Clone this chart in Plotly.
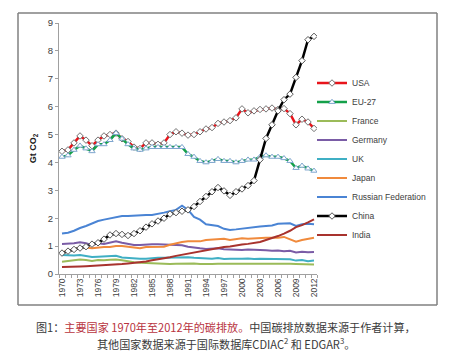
import plotly.graph_objects as go

years = list(range(1970, 2013))

usa = [4.40, 4.45, 4.70, 4.95, 4.80, 4.60, 4.80, 4.95, 5.00, 5.05,
       4.85, 4.75, 4.55, 4.50, 4.70, 4.70, 4.65, 4.70, 5.00, 5.10,
       5.05, 4.98, 5.00, 5.10, 5.20, 5.25, 5.40, 5.45, 5.50, 5.60,
       5.92, 5.78, 5.85, 5.90, 5.92, 5.95, 5.90, 5.93, 5.75, 5.35,
       5.55, 5.45, 5.22]
eu27 = [4.20, 4.25, 4.45, 4.60, 4.50, 4.40, 4.65, 4.65, 4.80, 5.05,
        4.85, 4.65, 4.50, 4.45, 4.50, 4.55, 4.55, 4.55, 4.55, 4.55,
        4.55, 4.30, 4.20, 4.05, 4.00, 4.05, 4.12, 4.05, 4.05, 4.00,
        4.05, 4.10, 4.10, 4.20, 4.25, 4.20, 4.20, 4.15, 4.05, 3.80,
        3.88, 3.78, 3.70]
france = [0.44, 0.47, 0.49, 0.52, 0.50, 0.47, 0.50, 0.49, 0.51, 0.52,
          0.49, 0.45, 0.42, 0.40, 0.39, 0.38, 0.36, 0.36, 0.36, 0.37,
          0.37, 0.39, 0.38, 0.36, 0.35, 0.36, 0.37, 0.37, 0.39, 0.39,
          0.39, 0.39, 0.39, 0.39, 0.39, 0.39, 0.38, 0.38, 0.37, 0.36,
          0.36, 0.34, 0.34]
germany = [1.08, 1.08, 1.10, 1.14, 1.10, 1.03, 1.10, 1.08, 1.12, 1.17,
           1.12, 1.08, 1.04, 1.04, 1.06, 1.07, 1.07, 1.06, 1.06, 1.04,
           1.03, 0.98, 0.94, 0.92, 0.90, 0.90, 0.92, 0.89, 0.88, 0.86,
           0.86, 0.88, 0.86, 0.86, 0.85, 0.83, 0.84, 0.82, 0.83, 0.77,
           0.80, 0.78, 0.79]
uk = [0.68, 0.67, 0.66, 0.68, 0.64, 0.61, 0.62, 0.63, 0.63, 0.65,
      0.59, 0.57, 0.56, 0.55, 0.55, 0.57, 0.58, 0.58, 0.59, 0.59,
      0.60, 0.60, 0.58, 0.57, 0.56, 0.55, 0.57, 0.54, 0.55, 0.54,
      0.55, 0.56, 0.54, 0.55, 0.55, 0.55, 0.55, 0.54, 0.53, 0.48,
      0.50, 0.46, 0.48]
japan = [0.78, 0.82, 0.88, 0.95, 0.95, 0.92, 0.95, 0.97, 0.97, 1.00,
         1.00, 0.97, 0.93, 0.92, 0.97, 0.97, 0.97, 0.98, 1.05, 1.10,
         1.15, 1.17, 1.18, 1.17, 1.22, 1.24, 1.26, 1.26, 1.22, 1.25,
         1.28, 1.26, 1.28, 1.30, 1.30, 1.30, 1.30, 1.33, 1.25, 1.16,
         1.22, 1.25, 1.30]
russia = [1.45, 1.48, 1.55, 1.65, 1.72, 1.82, 1.90, 1.95, 2.00, 2.05,
          2.08, 2.08, 2.10, 2.10, 2.12, 2.12, 2.15, 2.20, 2.25, 2.30,
          2.45, 2.30, 2.05, 1.95, 1.78, 1.75, 1.72, 1.62, 1.58, 1.60,
          1.63, 1.65, 1.67, 1.70, 1.72, 1.74, 1.80, 1.82, 1.82, 1.72,
          1.78, 1.80, 1.78]
china = [0.75, 0.82, 0.88, 0.93, 0.98, 1.07, 1.12, 1.25, 1.40, 1.45,
         1.42, 1.38, 1.45, 1.55, 1.68, 1.80, 1.90, 2.00, 2.15, 2.20,
         2.25, 2.30, 2.42, 2.60, 2.78, 2.95, 3.10, 2.98, 2.82, 2.95,
         3.05, 3.17, 3.35, 4.10, 4.86, 5.35, 5.85, 6.25, 6.45, 7.05,
         7.65, 8.40, 8.52]
india = [0.25, 0.25, 0.26, 0.27, 0.28, 0.29, 0.30, 0.32, 0.32, 0.34,
         0.36, 0.38, 0.40, 0.43, 0.45, 0.49, 0.52, 0.56, 0.60, 0.65,
         0.69, 0.73, 0.77, 0.80, 0.85, 0.90, 0.94, 0.97, 0.99, 1.03,
         1.06, 1.08, 1.11, 1.15, 1.22, 1.28, 1.36, 1.45, 1.55, 1.68,
         1.75, 1.85, 1.96]

tick_years = list(range(1970, 2013, 3))
tick_labels = [str(y) for y in tick_years]

caption_line1 = ('图1：<span style="color:#B8333E">主要国家 1970年至2012年的碳排放。</span>'
                 '中国碳排放数据来源于作者计算，')
caption_line2 = '其他国家数据来源于国际数据库CDIAC<sup>2</sup> 和 EDGAR<sup>3</sup>。'

W, H = 454, 361
ML, MR, MT, MB = 59, 137, 23, 87
pw = W - ML - MR
ph = H - MT - MB

def px_x(x):
    return (x - ML) / pw

def px_y(y):
    return (H - MB - y) / ph

fig = go.Figure()

line_series = [
    ("France", france, "#9BBB59"),
    ("Germany", germany, "#7A5CA6"),
    ("UK", uk, "#3FAFC4"),
    ("Japan", japan, "#F08A3C"),
    ("Russian Federation", russia, "#4A84D4"),
]

fig.add_trace(go.Scatter(x=years, y=usa, name="USA", mode="lines+markers",
                         line=dict(color="#E8141B", width=2.5),
                         marker=dict(symbol="diamond", size=5, color="white",
                                     line=dict(color="#707070", width=1))))
fig.add_trace(go.Scatter(x=years, y=eu27, name="EU-27", mode="lines+markers",
                         line=dict(color="#14A04A", width=2.5),
                         marker=dict(symbol="triangle-up", size=5.5, color="white",
                                     line=dict(color="#7FA6CF", width=1))))
for name, vals, col in line_series:
    fig.add_trace(go.Scatter(x=years, y=vals, name=name, mode="lines",
                             line=dict(color=col, width=2)))
fig.add_trace(go.Scatter(x=years, y=china, name="China", mode="lines+markers",
                         line=dict(color="#000000", width=2.5),
                         marker=dict(symbol="diamond", size=5, color="white",
                                     line=dict(color="#555555", width=1))))
fig.add_trace(go.Scatter(x=years, y=india, name="India", mode="lines",
                         line=dict(color="#A8332E", width=2)))

bx0, bx1, by0, by1 = px_x(18), px_x(437), px_y(305), px_y(13)
box_style = dict(color="#808080", width=1.5)
box_edges = [
    (bx0, by0, bx1, by0), (bx0, by1, bx1, by1),
    (bx0, by0, bx0, by1), (bx1, by0, bx1, by1),
]

fig.update_layout(
    width=W, height=H,
    margin=dict(l=ML, r=MR, t=MT, b=MB),
    paper_bgcolor="white", plot_bgcolor="white",
    hovermode=False,
    font=dict(family="Liberation Sans, Arial, sans-serif", size=9, color="#404040"),
    showlegend=True,
    legend=dict(x=px_x(312), xanchor="left", y=px_y(159), yanchor="middle",
                font=dict(size=8.5, color="#404040"), bgcolor="rgba(0,0,0,0)",
                borderwidth=0, tracegroupgap=0),
    xaxis=dict(range=[1969.5, 2012.5], tickmode="array", tickvals=tick_years,
               ticktext=tick_labels, tickangle=-90, ticks="",
               tickfont=dict(size=8.5, color="#404040"),
               showline=True, linecolor="#A0A0A0", linewidth=1,
               showgrid=False, zeroline=False,
               minor=dict(ticks="outside", dtick=1, tick0=1969.5, ticklen=3,
                          tickcolor="#A0A0A0", showgrid=False)),
    yaxis=dict(range=[0, 9], dtick=1, ticks="outside", ticklen=3,
               tickcolor="#A0A0A0", showline=True, linecolor="#A0A0A0",
               linewidth=1, showgrid=False, zeroline=False,
               tickfont=dict(size=9.5, color="#404040"),
               title=dict(text="<b>Gt CO<sub>2</sub></b>", font=dict(size=9, color="#202020"),
                          standoff=9)),
    shapes=[dict(type="line", xref="paper", yref="paper", x0=a, y0=b, x1=c, y1=d,
                 line=box_style, layer="above") for a, b, c, d in box_edges],
    annotations=[
        dict(text=caption_line1, xref="paper", yref="paper", x=px_x(226), y=px_y(327),
             xanchor="center", yanchor="middle", showarrow=False,
             font=dict(family="Noto Sans CJK SC", size=11.1, color="#3A3A3A")),
        dict(text=caption_line2, xref="paper", yref="paper", x=px_x(226), y=px_y(343),
             xanchor="center", yanchor="middle", showarrow=False,
             font=dict(family="Noto Sans CJK SC", size=11.1, color="#3A3A3A")),
    ],
)

fig.write_html("out.html", config={"displayModeBar": False},
               post_script="document.body.style.margin='0';")
